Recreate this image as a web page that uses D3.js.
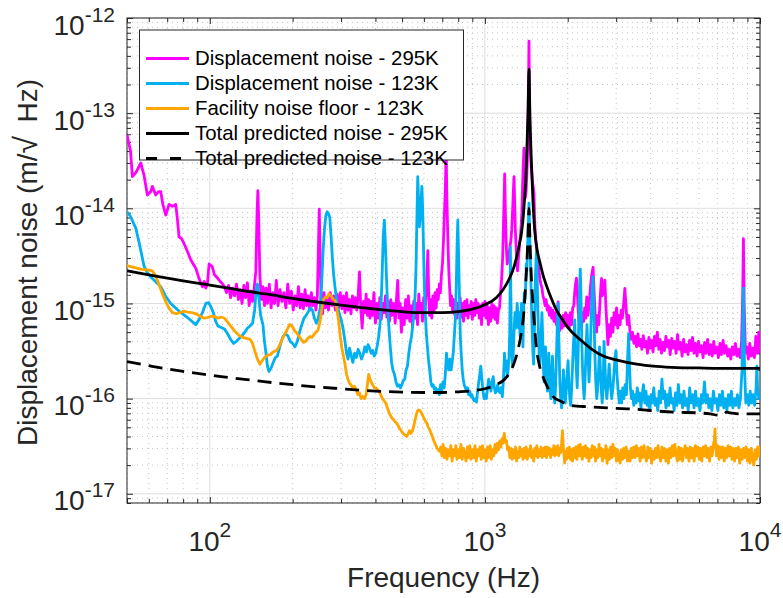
<!DOCTYPE html>
<html>
<head>
<meta charset="utf-8">
<script src="https://cdn.jsdelivr.net/npm/d3@7"></script>
<style>
    body { margin: 0; background: #fff; }
    svg { display: block; font-family: "Liberation Sans", Arial, Helvetica, sans-serif; }
</style>
</head>
<body>
<div class="chart"></div>
<script>
// Series: [frequency in Hz, noise in units of 1e-15 m/sqrt(Hz)]
const disp295K = [
    [50, 59], [51.5, 40], [52.3, 21.5], [54, 24], [56.1, 30], [57.7, 22], [59.3, 13.8], [61, 15], [61.8, 17],
    [63.6, 13.8], [65, 15], [66.3, 15], [67.5, 11], [69.2, 8.5], [71.1, 11], [73, 10.5], [75.2, 11], [76.3, 7.5],
    [77.3, 5.0], [78.9, 4.8], [80.5, 4.3], [83, 3.5], [85.3, 2.86], [87, 2.6], [88.9, 2.35], [91, 1.9], [93, 1.6],
    [94, 1.5], [95.5, 1.7], [96.7, 1.45], [98, 1.6], [99.4, 2.6], [101, 2.5], [102, 2.45], [104, 2.0], [107, 1.83],
    [109, 1.7], [111, 1.62], [113, 1.5], [115, 1.3], [117, 1.55], [119, 1.15], [121, 1.45], [123, 1.2], [125, 1.6],
    [127, 1.1], [129, 1.4], [131, 1.0], [133, 1.55], [135, 1.15], [137, 1.65], [139, 0.95], [141, 1.35], [143, 1.05],
    [145, 1.45], [147, 2.2], [148.5, 9], [149.5, 15.3], [150.5, 8], [152, 2.0], [154, 1.1], [156, 1.5], [158, 0.95],
    [160, 1.45], [162, 1.0], [164.5, 1.6], [167, 0.9], [169.5, 1.3], [172, 1.0], [174.5, 1.75], [177, 0.95], [180, 1.4],
    [183, 1.05], [186, 1.3], [189, 0.9], [192, 1.6], [195, 1.0], [198, 1.35], [201, 0.85], [204, 1.2], [207, 0.95],
    [210, 1.5], [213, 0.9], [216, 1.25], [219, 0.88], [222, 1.4], [225, 0.95], [228, 1.2], [231, 0.85], [234, 1.3],
    [237, 0.95], [240, 1.15], [243, 0.85], [246, 1.2], [248, 3.5], [250, 9.8], [252, 3.0], [254, 1.0], [257, 0.78],
    [260, 1.3], [263, 0.9], [266, 1.15], [270, 0.85], [274, 1.3], [278, 0.95], [282, 1.2], [286, 0.85], [290, 1.25],
    [294, 0.9], [298, 1.3], [302, 0.88], [306, 1.2], [310, 0.8], [314, 1.3], [318, 0.85], [322, 1.1], [326, 0.78],
    [330, 1.2], [334, 0.9], [338, 1.15], [342, 0.85], [346, 1.2], [350, 2.15], [354, 0.85], [358, 0.55], [362, 1.05],
    [366, 0.8], [370, 1.25], [374, 0.75], [378, 1.1], [382, 0.7], [386, 1.05], [390, 0.75], [395, 1.3], [400, 0.62],
    [405, 1.0], [410, 0.7], [415, 1.15], [420, 0.68], [425, 1.0], [430, 0.8], [435, 1.2], [440, 0.72], [445, 1.05],
    [450, 0.65], [455, 1.1], [460, 0.75], [466, 1.0], [472, 0.62], [477, 1.1], [482, 1.75], [487, 0.7], [492, 1.0],
    [497, 0.5], [503, 0.9], [509, 0.6], [515, 1.1], [521, 0.7], [527, 1.2], [533, 0.65], [539, 0.95], [545, 0.58],
    [551, 1.05], [557, 0.7], [563, 1.0], [569, 0.6], [575, 1.25], [581, 0.8], [587, 1.0], [593, 0.65], [599, 1.15],
    [605, 0.8], [611, 1.2], [616, 2.0], [620, 3.6], [624, 1.5], [629, 0.75], [635, 1.1], [641, 0.7], [647, 1.2],
    [653, 0.8], [659, 1.3], [665, 0.9], [671, 1.4], [677, 1.1], [683, 1.6], [689, 1.3], [695, 2.0], [701, 2.6],
    [707, 4.5], [713, 9], [718, 16], [723, 40], [727, 14], [732, 6], [738, 2.5], [744, 1.5], [750, 0.95], [757, 1.2],
    [764, 0.8], [771, 1.1], [778, 0.75], [785, 1.05], [792, 0.7], [799, 1.0], [806, 0.78], [813, 1.15], [820, 0.72],
    [828, 1.0], [836, 0.65], [844, 1.05], [852, 0.75], [860, 1.1], [868, 0.7], [876, 0.95], [884, 0.78], [892, 1.05],
    [900, 0.68], [909, 1.0], [918, 0.75], [927, 1.1], [936, 0.8], [945, 1.0], [954, 0.7], [963, 0.95], [972, 0.6],
    [981, 1.0], [990, 0.75], [1000, 1.05], [1010, 0.7], [1020, 0.95], [1030, 0.6], [1040, 0.9], [1050, 0.65],
    [1060, 1.0], [1070, 0.72], [1080, 0.95], [1090, 0.68], [1100, 0.9], [1110, 0.62], [1120, 0.85], [1130, 0.9],
    [1140, 1.3], [1150, 1.8], [1160, 3.0], [1170, 8], [1180, 23], [1188, 8], [1196, 4], [1205, 2.6], [1214, 2.8],
    [1223, 3.2], [1232, 3.9], [1242, 4.5], [1252, 6], [1262, 10], [1270, 16], [1276, 21.5], [1283, 12], [1290, 6],
    [1298, 4], [1306, 2.8], [1314, 2.2], [1322, 2.8], [1330, 3.5], [1338, 4.5], [1346, 5], [1354, 6.5], [1362, 9],
    [1370, 16], [1378, 28], [1387, 43], [1395, 20], [1403, 13], [1412, 15], [1420, 22], [1428, 35], [1436, 80],
    [1441, 200], [1446, 570], [1451, 180], [1457, 70], [1464, 40], [1470, 30], [1478, 25], [1487, 20], [1497, 17],
    [1508, 14.5], [1518, 7], [1528, 5], [1538, 4], [1548, 3.2], [1560, 2.6], [1572, 2.2], [1585, 1.8], [1598, 1.6],
    [1612, 1.45], [1626, 1.2], [1640, 1.1], [1655, 0.95], [1670, 1.1], [1685, 0.85], [1700, 0.95], [1716, 0.75],
    [1732, 0.9], [1748, 0.7], [1765, 0.85], [1782, 0.65], [1800, 0.8], [1818, 0.6], [1832, 0.75], [1845, 1.04],
    [1858, 0.7], [1872, 0.52], [1890, 0.7], [1908, 0.55], [1926, 0.75], [1945, 0.58], [1965, 0.8], [1985, 0.6],
    [2005, 0.75], [2025, 0.55], [2045, 0.8], [2065, 0.6], [2085, 0.9], [2105, 0.95], [2120, 1.3], [2135, 1.6],
    [2152, 1.85], [2168, 1.3], [2185, 0.8], [2205, 0.6], [2225, 0.75], [2245, 0.55], [2265, 0.8], [2285, 0.65],
    [2305, 0.9], [2325, 0.7], [2345, 1.17], [2370, 0.75], [2395, 1.0], [2420, 1.5], [2445, 2.0], [2473, 2.4],
    [2495, 1.3], [2520, 0.7], [2545, 0.5], [2570, 0.75], [2595, 0.6], [2618, 1.0], [2640, 1.5], [2655, 1.83],
    [2672, 1.2], [2690, 1.3], [2710, 1.5], [2730, 1.76], [2750, 1.0], [2775, 0.6], [2800, 0.37], [2830, 0.6],
    [2860, 0.45], [2890, 0.7], [2920, 0.5], [2950, 0.8], [2980, 0.6], [3010, 0.9], [3040, 0.55], [3070, 0.75],
    [3100, 0.6], [3130, 0.85], [3160, 0.7], [3195, 1.0], [3227, 1.44], [3260, 0.9], [3295, 0.6], [3330, 0.75],
    [3367, 0.52], [3400, 0.42], [3440, 0.5], [3480, 0.38], [3520, 0.45], [3560, 0.35], [3600, 0.48], [3640, 0.36],
    [3680, 0.42], [3720, 0.33], [3765, 0.46], [3810, 0.35], [3855, 0.4], [3900, 0.3], [3945, 0.44], [3990, 0.34],
    [4035, 0.41], [4085, 0.31], [4135, 0.45], [4185, 0.36], [4235, 0.5], [4285, 0.33], [4335, 0.42], [4385, 0.3],
    [4440, 0.39], [4495, 0.32], [4550, 0.45], [4605, 0.35], [4660, 0.41], [4715, 0.29], [4775, 0.43], [4835, 0.34],
    [4895, 0.4], [4955, 0.3], [5015, 0.47], [5080, 0.33], [5145, 0.39], [5210, 0.28], [5275, 0.42], [5340, 0.31],
    [5405, 0.37], [5475, 0.29], [5545, 0.41], [5615, 0.32], [5685, 0.44], [5755, 0.3], [5830, 0.38], [5905, 0.28],
    [5980, 0.4], [6055, 0.31], [6130, 0.36], [6210, 0.27], [6290, 0.39], [6370, 0.3], [6450, 0.42], [6535, 0.29],
    [6620, 0.37], [6705, 0.28], [6790, 0.4], [6880, 0.3], [6970, 0.35], [7060, 0.27], [7150, 0.38], [7245, 0.29],
    [7340, 0.41], [7435, 0.3], [7530, 0.36], [7630, 0.28], [7730, 0.33], [7830, 0.26], [7930, 0.35], [8035, 0.29],
    [8140, 0.38], [8245, 0.28], [8350, 0.33], [8460, 0.27], [8570, 0.4], [8650, 1.2], [8705, 4.8], [8760, 1.0],
    [8850, 0.3], [8960, 0.35], [9070, 0.26], [9180, 0.38], [9300, 0.28], [9420, 0.34], [9540, 0.27], [9660, 0.45],
    [9780, 0.3], [9900, 0.5], [10000, 0.3]
];

const disp123K = [
    [50, 9.2], [51.5, 8.2], [53.8, 6.2], [55.5, 4.2], [57.7, 2.45], [59.3, 2.1], [61, 1.9], [63.5, 1.7], [66.3, 1.5],
    [69, 1.2], [72.1, 1.0], [75, 0.9], [78.4, 0.8], [81, 0.75], [83.5, 0.7], [86, 0.65], [88.9, 0.6], [91.5, 0.68],
    [94, 0.8], [96.7, 1.0], [99, 1.02], [101, 0.92], [103, 0.8], [105, 0.65], [107, 0.58], [110, 0.56], [113, 0.54],
    [116, 0.48], [119, 0.42], [122, 0.38], [125, 0.4], [128, 0.43], [131, 0.46], [134, 0.5], [137, 0.55], [140, 0.58],
    [143, 0.62], [145.5, 0.85], [147.5, 1.4], [149, 1.6], [151, 1.1], [153, 0.75], [156, 0.6], [158, 0.4], [160, 0.3],
    [162, 0.22], [164, 0.193], [167, 0.21], [170, 0.24], [173, 0.27], [176, 0.28], [180, 0.36], [184, 0.44], [188, 0.48],
    [192, 0.46], [196, 0.4], [200, 0.38], [204, 0.35], [208, 0.4], [212, 0.5], [216, 0.6], [220, 0.7], [224, 0.75],
    [228, 0.82], [232, 0.9], [236, 0.85], [240, 0.7], [244, 0.62], [248, 0.7], [252, 0.9], [255, 1.6], [258, 3.5],
    [261, 6.0], [264, 8.3], [267, 9.2], [270, 8.8], [273, 8.0], [276, 5.0], [279, 3.0], [282, 2.0], [285, 1.5],
    [290, 1.0], [295, 0.8], [300, 0.68], [305, 0.55], [310, 0.4], [314, 0.3], [318, 0.26], [322, 0.34], [327, 0.28],
    [331, 0.24], [336, 0.3], [341, 0.27], [346, 0.33], [351, 0.3], [356, 0.26], [361, 0.29], [366, 0.35], [371, 0.31],
    [376, 0.37], [381, 0.34], [386, 0.3], [391, 0.32], [396, 0.28], [401, 0.3], [406, 0.36], [411, 0.45], [415, 0.58],
    [419, 0.9], [423, 2.0], [427, 5.0], [431, 7.5], [435, 4.0], [439, 1.8], [443, 0.92], [448, 0.55], [453, 0.35],
    [458, 0.24], [463, 0.2], [469, 0.18], [475, 0.15], [481, 0.135], [487, 0.14], [493, 0.13], [499, 0.14],
    [505, 0.155], [511, 0.16], [517, 0.2], [523, 0.22], [529, 0.3], [535, 0.38], [541, 0.45], [547, 0.6], [553, 0.8],
    [558, 1.3], [562, 2.5], [566, 8], [570, 21.5], [574, 12], [578, 6.4], [582, 8], [586, 12], [590, 17], [594, 10],
    [598, 4], [602, 1.6], [607, 0.8], [612, 0.5], [618, 0.35], [624, 0.25], [630, 0.2], [636, 0.15], [642, 0.135],
    [648, 0.14], [655, 0.125], [662, 0.13], [669, 0.115], [676, 0.125], [683, 0.11], [690, 0.14], [697, 0.12],
    [704, 0.15], [711, 0.13], [718, 0.18], [725, 0.3], [732, 0.23], [739, 0.2], [746, 0.26], [753, 0.2], [760, 0.24],
    [767, 0.3], [774, 0.45], [781, 0.7], [787, 1.6], [792, 4.0], [797, 7.5], [802, 3.5], [808, 1.2], [814, 0.45],
    [820, 0.3], [827, 0.2], [834, 0.16], [841, 0.14], [849, 0.13], [857, 0.12], [865, 0.13], [873, 0.11], [881, 0.12],
    [889, 0.105], [897, 0.11], [905, 0.1], [914, 0.095], [923, 0.1], [932, 0.092], [941, 0.12], [950, 0.15],
    [958, 0.18], [966, 0.22], [975, 0.16], [984, 0.12], [993, 0.1], [1002, 0.11], [1012, 0.1], [1022, 0.13],
    [1032, 0.16], [1042, 0.14], [1052, 0.12], [1062, 0.15], [1072, 0.17], [1082, 0.13], [1092, 0.115], [1102, 0.12],
    [1113, 0.14], [1124, 0.12], [1135, 0.115], [1146, 0.13], [1157, 0.105], [1168, 0.16], [1178, 0.3], [1186, 0.2],
    [1195, 0.25], [1204, 0.17], [1214, 0.2], [1224, 0.28], [1231, 0.5], [1235, 1.5], [1238, 3.9], [1242, 1.4],
    [1248, 0.4], [1255, 0.25], [1262, 0.22], [1270, 0.35], [1278, 0.55], [1286, 0.8], [1294, 0.55], [1302, 0.7],
    [1310, 1.0], [1318, 0.75], [1326, 0.55], [1334, 0.8], [1342, 0.45], [1350, 0.7], [1358, 1.0], [1366, 0.55],
    [1375, 0.35], [1383, 0.9], [1391, 1.3], [1399, 1.1], [1407, 1.6], [1414, 2.6], [1421, 2.2], [1428, 3.8],
    [1435, 5.5], [1441, 8], [1446, 11.3], [1452, 7], [1458, 4], [1465, 2.6], [1472, 1.4], [1479, 0.8], [1487, 0.45],
    [1495, 0.3], [1503, 0.23], [1511, 0.4], [1519, 0.9], [1527, 2.0], [1535, 3.0], [1541, 3.6], [1548, 2.0],
    [1556, 1.0], [1565, 0.5], [1574, 0.3], [1583, 0.22], [1592, 0.3], [1602, 0.5], [1612, 0.8], [1620, 0.5],
    [1630, 0.25], [1640, 0.15], [1650, 0.2], [1660, 0.35], [1668, 0.25], [1678, 0.15], [1688, 0.12], [1698, 0.18],
    [1708, 0.3], [1716, 0.2], [1726, 0.13], [1737, 0.1], [1748, 0.15], [1760, 0.28], [1770, 0.18], [1782, 0.11],
    [1794, 0.09], [1806, 0.13], [1818, 0.25], [1830, 0.5], [1845, 1.0], [1858, 0.4], [1872, 0.15], [1886, 0.1],
    [1900, 0.08], [1915, 0.12], [1930, 0.2], [1945, 0.13], [1960, 0.09], [1975, 0.12], [1990, 0.18], [2006, 0.25],
    [2020, 0.15], [2035, 0.1], [2050, 0.085], [2065, 0.12], [2080, 0.2], [2095, 0.35], [2110, 0.5], [2121, 0.67],
    [2135, 0.35], [2150, 0.2], [2165, 0.13], [2180, 0.25], [2195, 0.7], [2210, 1.5], [2222, 2.3], [2235, 1.2],
    [2250, 0.4], [2265, 0.2], [2280, 0.13], [2295, 0.1], [2310, 0.15], [2330, 0.3], [2350, 0.6], [2370, 0.3],
    [2390, 0.15], [2410, 0.25], [2430, 0.6], [2450, 1.2], [2470, 1.9], [2490, 0.8], [2510, 0.3], [2530, 0.15],
    [2550, 0.1], [2570, 0.13], [2590, 0.2], [2610, 0.35], [2630, 0.2], [2650, 0.12], [2670, 0.09], [2692, 0.15],
    [2710, 0.4], [2730, 0.25], [2750, 0.13], [2775, 0.1], [2800, 0.14], [2830, 0.23], [2860, 0.14], [2890, 0.1],
    [2920, 0.13], [2950, 0.2], [2975, 0.28], [2995, 0.32], [3020, 0.18], [3050, 0.12], [3080, 0.09], [3110, 0.12],
    [3140, 0.09], [3170, 0.13], [3200, 0.1], [3235, 0.14], [3270, 0.11], [3300, 0.25], [3330, 0.48], [3355, 0.22],
    [3380, 0.13], [3410, 0.1], [3440, 0.12], [3475, 0.085], [3510, 0.11], [3545, 0.09], [3580, 0.13], [3615, 0.095],
    [3650, 0.115], [3690, 0.08], [3730, 0.11], [3770, 0.14], [3810, 0.09], [3850, 0.12], [3890, 0.085], [3930, 0.105],
    [3975, 0.075], [4020, 0.11], [4065, 0.09], [4110, 0.13], [4155, 0.085], [4200, 0.1], [4250, 0.075], [4300, 0.12],
    [4350, 0.09], [4400, 0.16], [4450, 0.1], [4500, 0.12], [4550, 0.08], [4600, 0.11], [4655, 0.085], [4710, 0.13],
    [4765, 0.09], [4820, 0.1], [4875, 0.075], [4930, 0.115], [4990, 0.085], [5050, 0.14], [5110, 0.09], [5170, 0.11],
    [5230, 0.08], [5290, 0.12], [5355, 0.085], [5420, 0.1], [5485, 0.075], [5550, 0.13], [5620, 0.09], [5690, 0.11],
    [5760, 0.08], [5830, 0.12], [5900, 0.085], [5975, 0.1], [6050, 0.075], [6125, 0.11], [6200, 0.09], [6280, 0.15],
    [6360, 0.09], [6440, 0.11], [6520, 0.08], [6600, 0.1], [6685, 0.075], [6770, 0.12], [6855, 0.09], [6940, 0.1],
    [7030, 0.075], [7120, 0.11], [7210, 0.085], [7300, 0.12], [7390, 0.08], [7485, 0.1], [7580, 0.075], [7675, 0.11],
    [7770, 0.085], [7870, 0.12], [7970, 0.08], [8070, 0.1], [8175, 0.085], [8280, 0.11], [8385, 0.08], [8490, 0.1],
    [8600, 0.2], [8705, 1.45], [8790, 0.2], [8880, 0.09], [8990, 0.11], [9100, 0.085], [9210, 0.12], [9320, 0.09],
    [9440, 0.11], [9560, 0.085], [9680, 0.13], [9740, 0.22], [9800, 0.13], [9900, 0.1], [10000, 0.11]
];

const facility123K = [
    [50, 2.5], [53, 2.4], [56, 2.3], [59, 2.25], [61.8, 2.2], [63.5, 1.95], [65.3, 1.6], [67, 1.3], [69.2, 1.04],
    [71, 0.9], [73.1, 0.8], [75.5, 0.78], [78, 0.8], [80.5, 0.83], [83, 0.81], [86, 0.8], [89, 0.78], [92, 0.74],
    [95.3, 0.7], [98, 0.71], [101, 0.73], [104, 0.73], [107, 0.7], [110, 0.72], [113, 0.7], [116, 0.64], [119, 0.58],
    [122, 0.53], [125, 0.49], [128, 0.46], [132, 0.44], [136, 0.43], [140, 0.42], [143, 0.38], [146, 0.31],
    [149, 0.26], [152, 0.23], [155, 0.25], [158, 0.27], [162, 0.285], [166, 0.29], [170, 0.31], [175, 0.32],
    [179, 0.36], [183, 0.42], [187, 0.47], [191, 0.53], [195, 0.6], [199, 0.58], [203, 0.52], [207, 0.49], [211, 0.45],
    [215, 0.42], [219, 0.39], [223, 0.4], [227, 0.43], [231, 0.45], [235, 0.44], [239, 0.47], [243, 0.5], [247, 0.52],
    [251, 0.62], [255, 0.85], [259, 1.1], [263, 1.17], [267, 1.15], [271, 1.27], [276, 1.2], [281, 1.1], [286, 1.07],
    [290, 0.85], [294, 0.65], [298, 0.45], [302, 0.34], [306, 0.28], [310, 0.23], [314, 0.18], [318, 0.16],
    [322, 0.145], [326, 0.14], [330, 0.13], [335, 0.135], [340, 0.125], [345, 0.11], [350, 0.115], [355, 0.1],
    [360, 0.105], [365, 0.1], [370, 0.11], [374, 0.14], [378, 0.18], [382, 0.16], [386, 0.15], [391, 0.14], [396, 0.13],
    [401, 0.13], [406, 0.125], [412, 0.12], [418, 0.11], [424, 0.1], [430, 0.095], [436, 0.09], [442, 0.08],
    [448, 0.072], [454, 0.066], [460, 0.062], [466, 0.06], [472, 0.057], [478, 0.055], [484, 0.052], [490, 0.048],
    [496, 0.046], [502, 0.044], [508, 0.042], [514, 0.041], [520, 0.04], [526, 0.043], [532, 0.046], [538, 0.043],
    [544, 0.045], [550, 0.05], [556, 0.058], [562, 0.066], [568, 0.074], [574, 0.076], [580, 0.075], [586, 0.072],
    [592, 0.068], [598, 0.064], [604, 0.06], [610, 0.057], [616, 0.055], [622, 0.05], [628, 0.048], [634, 0.045],
    [640, 0.042], [646, 0.039], [652, 0.036], [658, 0.034], [664, 0.032], [670, 0.03], [677, 0.029], [684, 0.028],
    [691, 0.031], [698, 0.025], [705, 0.033], [712, 0.024], [720, 0.03], [728, 0.023], [736, 0.029], [744, 0.025],
    [752, 0.032], [760, 0.022], [768, 0.029], [776, 0.025], [784, 0.032], [792, 0.023], [800, 0.029], [809, 0.024],
    [818, 0.033], [827, 0.023], [836, 0.03], [845, 0.026], [854, 0.022], [863, 0.031], [872, 0.024], [881, 0.032],
    [890, 0.023], [900, 0.029], [910, 0.024], [920, 0.032], [930, 0.022], [940, 0.029], [950, 0.025], [960, 0.031],
    [970, 0.023], [980, 0.032], [990, 0.024], [1000, 0.029], [1011, 0.022], [1022, 0.031], [1033, 0.024],
    [1044, 0.032], [1055, 0.023], [1066, 0.029], [1077, 0.025], [1088, 0.033], [1099, 0.027], [1110, 0.034],
    [1121, 0.029], [1132, 0.036], [1143, 0.031], [1154, 0.038], [1165, 0.034], [1176, 0.043], [1187, 0.035],
    [1198, 0.036], [1209, 0.029], [1220, 0.031], [1232, 0.024], [1244, 0.03], [1256, 0.023], [1268, 0.029],
    [1280, 0.024], [1292, 0.031], [1304, 0.022], [1316, 0.028], [1328, 0.024], [1340, 0.031], [1352, 0.025],
    [1364, 0.029], [1376, 0.023], [1388, 0.03], [1400, 0.024], [1413, 0.031], [1426, 0.023], [1439, 0.029],
    [1452, 0.025], [1465, 0.032], [1478, 0.024], [1491, 0.028], [1504, 0.022], [1517, 0.03], [1530, 0.025],
    [1544, 0.032], [1558, 0.024], [1572, 0.029], [1586, 0.025], [1600, 0.031], [1615, 0.024], [1630, 0.03],
    [1645, 0.025], [1660, 0.031], [1675, 0.024], [1690, 0.031], [1705, 0.026], [1720, 0.03], [1735, 0.024],
    [1750, 0.029], [1765, 0.026], [1780, 0.032], [1795, 0.025], [1810, 0.031], [1825, 0.026], [1840, 0.032],
    [1855, 0.025], [1870, 0.03], [1885, 0.027], [1900, 0.034], [1915, 0.046], [1925, 0.034], [1935, 0.027],
    [1950, 0.021], [1965, 0.028], [1980, 0.023], [1995, 0.03], [2010, 0.024], [2028, 0.031], [2046, 0.023],
    [2064, 0.029], [2082, 0.022], [2100, 0.03], [2120, 0.024], [2140, 0.031], [2160, 0.023], [2180, 0.032],
    [2200, 0.025], [2220, 0.033], [2240, 0.026], [2260, 0.023], [2280, 0.031], [2300, 0.025], [2322, 0.032],
    [2344, 0.024], [2366, 0.03], [2388, 0.022], [2410, 0.029], [2433, 0.024], [2456, 0.032], [2479, 0.025],
    [2502, 0.031], [2525, 0.022], [2550, 0.029], [2575, 0.024], [2600, 0.033], [2625, 0.025], [2650, 0.03],
    [2675, 0.022], [2700, 0.029], [2727, 0.024], [2754, 0.032], [2781, 0.021], [2808, 0.029], [2835, 0.023],
    [2863, 0.031], [2891, 0.024], [2920, 0.033], [2949, 0.025], [2978, 0.03], [3008, 0.022], [3038, 0.029],
    [3068, 0.024], [3100, 0.021], [3132, 0.029], [3164, 0.023], [3196, 0.03], [3230, 0.024], [3264, 0.031],
    [3298, 0.022], [3333, 0.028], [3368, 0.022], [3404, 0.03], [3440, 0.024], [3477, 0.031], [3514, 0.024],
    [3551, 0.032], [3589, 0.025], [3627, 0.03], [3666, 0.022], [3705, 0.031], [3745, 0.024], [3785, 0.032],
    [3826, 0.025], [3867, 0.022], [3909, 0.031], [3951, 0.024], [3994, 0.03], [4037, 0.021], [4081, 0.028],
    [4125, 0.023], [4170, 0.03], [4215, 0.024], [4261, 0.032], [4307, 0.025], [4354, 0.022], [4401, 0.031],
    [4449, 0.024], [4497, 0.03], [4546, 0.022], [4595, 0.029], [4645, 0.021], [4695, 0.03], [4746, 0.024],
    [4797, 0.032], [4849, 0.025], [4902, 0.033], [4955, 0.026], [5009, 0.022], [5063, 0.031], [5118, 0.023],
    [5173, 0.03], [5229, 0.022], [5286, 0.028], [5343, 0.032], [5401, 0.024], [5459, 0.03], [5518, 0.022],
    [5578, 0.031], [5638, 0.024], [5699, 0.03], [5761, 0.022], [5823, 0.032], [5886, 0.025], [5950, 0.031],
    [6014, 0.023], [6080, 0.03], [6145, 0.022], [6212, 0.031], [6279, 0.025], [6347, 0.032], [6416, 0.024],
    [6485, 0.03], [6555, 0.022], [6626, 0.031], [6698, 0.025], [6770, 0.033], [6820, 0.036], [6860, 0.048],
    [6900, 0.032], [6950, 0.025], [7025, 0.032], [7100, 0.023], [7177, 0.031], [7255, 0.024], [7334, 0.031],
    [7413, 0.022], [7494, 0.03], [7575, 0.024], [7657, 0.032], [7740, 0.025], [7824, 0.031], [7909, 0.023],
    [7994, 0.03], [8081, 0.022], [8168, 0.03], [8257, 0.024], [8346, 0.031], [8436, 0.021], [8528, 0.029],
    [8620, 0.023], [8713, 0.03], [8807, 0.024], [8903, 0.031], [8999, 0.022], [9096, 0.029], [9195, 0.021],
    [9294, 0.03], [9395, 0.024], [9496, 0.02], [9599, 0.029], [9703, 0.023], [9808, 0.031], [9904, 0.025],
    [10000, 0.032]
];

const model295K = [
    [50, 2.2], [60, 2.0], [70, 1.85], [80, 1.73], [90, 1.64], [100, 1.56], [120, 1.43], [140, 1.33], [160, 1.26],
    [200, 1.13], [250, 1.03], [300, 0.96], [350, 0.91], [400, 0.87], [500, 0.82], [600, 0.8], [700, 0.8], [800, 0.82],
    [900, 0.87], [1000, 0.97], [1100, 1.15], [1165, 1.4], [1230, 1.85], [1280, 2.5], [1337, 4.3], [1357, 5.4],
    [1380, 8.5], [1395, 13], [1410, 22], [1422, 45], [1434, 100], [1446, 290], [1458, 90], [1476, 30], [1495, 12],
    [1517, 5.9], [1550, 3.6], [1590, 2.6], [1626, 2.0], [1673, 1.55], [1750, 1.1], [1820, 0.85], [1900, 0.7],
    [2000, 0.56], [2213, 0.42], [2450, 0.33], [2692, 0.28], [3000, 0.255], [3560, 0.23], [4200, 0.218],
    [5000, 0.212], [6000, 0.21], [8000, 0.208], [10000, 0.208]
];

const model123K = [
    [50, 0.245], [60, 0.222], [70, 0.205], [80, 0.193], [90, 0.184], [100, 0.177], [120, 0.165], [140, 0.157],
    [160, 0.15], [200, 0.14], [250, 0.132], [300, 0.127], [350, 0.123], [400, 0.12], [500, 0.117], [600, 0.116],
    [700, 0.116], [800, 0.118], [900, 0.121], [1000, 0.127], [1100, 0.14], [1180, 0.16], [1265, 0.22], [1310, 0.3],
    [1357, 0.5], [1385, 0.8], [1405, 1.5], [1422, 2.8], [1434, 5], [1446, 10], [1458, 4.5], [1476, 1.8], [1495, 1.0],
    [1517, 0.55], [1538, 0.35], [1580, 0.22], [1626, 0.17], [1673, 0.14], [1770, 0.105], [1900, 0.093],
    [2030, 0.085], [2400, 0.082], [3000, 0.079], [3370, 0.078], [4000, 0.075], [4840, 0.072], [5885, 0.071],
    [6600, 0.069], [7050, 0.067], [7350, 0.068], [7570, 0.072], [7800, 0.071], [8465, 0.069], [10000, 0.069]
];

const seriesNames = [
    "Displacement noise - 295K",
    "Displacement noise - 123K",
    "Facility noise floor - 123K",
    "Total predicted noise - 295K",
    "Total predicted noise - 123K"
];

// Decade tick labels, written as 10^exp
const xTickExps = ["2", "3", "4"];
const yTickExps = ["-17", "-16", "-15", "-14", "-13", "-12"];

const UNIT = 1e-15;

// Margins and plot size
const margin = {top: 18, right: 23, bottom: 95, left: 127};
const width = 783 - margin.left - margin.right;   // 633
const height = 598 - margin.top - margin.bottom;  // 485

const svg = d3.select(".chart")
    .append("svg")
    .attr("width", width + margin.left + margin.right)
    .attr("height", height + margin.top + margin.bottom);

const g = svg.append("g")
    .attr("transform", `translate(${margin.left}, ${margin.top})`);

// Log scales
const x = d3.scaleLog()
    .domain([50, 1e4])
    .range([0, width]);

const y = d3.scaleLog()
    .domain([8e-18, 1e-12])
    .range([height, 0]);

const xAll = x.ticks();
const yAll = y.ticks();
const isDecade = v => Math.abs(Math.log10(v) - Math.round(Math.log10(v))) < 1e-9;
const xMajor = xAll.filter(isDecade);
const yMajor = yAll.filter(isDecade);
const xMinor = xAll.filter(v => !isDecade(v));
const yMinor = yAll.filter(v => !isDecade(v));

// Grid: minor dotted, major solid
const grid = g.append("g").attr("class", "grid");
grid.selectAll(".xminor").data(xMinor).enter().append("line")
    .attr("x1", d => x(d)).attr("x2", d => x(d))
    .attr("y1", 0).attr("y2", height)
    .attr("stroke", "#c4c4c4").attr("stroke-dasharray", "1,4");
grid.selectAll(".yminor").data(yMinor).enter().append("line")
    .attr("y1", d => y(d)).attr("y2", d => y(d))
    .attr("x1", 0).attr("x2", width)
    .attr("stroke", "#c4c4c4").attr("stroke-dasharray", "1,4");
grid.selectAll(".xmajor").data(xMajor).enter().append("line")
    .attr("x1", d => x(d)).attr("x2", d => x(d))
    .attr("y1", 0).attr("y2", height)
    .attr("stroke", "#dedede");
grid.selectAll(".ymajor").data(yMajor).enter().append("line")
    .attr("y1", d => y(d)).attr("y2", d => y(d))
    .attr("x1", 0).attr("x2", width)
    .attr("stroke", "#dedede");

// Axes: ticks pointing inward on all four sides
const noDomain = sel => sel.select(".domain").remove();
const tickStyle = sel => sel.selectAll("line").attr("stroke", "#262626");

const addAxis = (axis, ticks, size, transform) => {
    g.append("g")
        .attr("transform", transform)
        .call(axis.tickValues(ticks).tickSize(-size).tickFormat(""))
        .call(noDomain)
        .call(tickStyle);
};

addAxis(d3.axisBottom(x), xMinor, 4, `translate(0, ${height})`);
addAxis(d3.axisBottom(x), xMajor, 6, `translate(0, ${height})`);
addAxis(d3.axisTop(x), xMinor, 4, "translate(0, 0)");
addAxis(d3.axisTop(x), xMajor, 6, "translate(0, 0)");
addAxis(d3.axisLeft(y), yMinor, 4, "translate(0, 0)");
addAxis(d3.axisLeft(y), yMajor, 6, "translate(0, 0)");
addAxis(d3.axisRight(y), yMinor, 4, `translate(${width}, 0)`);
addAxis(d3.axisRight(y), yMajor, 6, `translate(${width}, 0)`);

g.append("rect")
    .attr("width", width)
    .attr("height", height)
    .attr("fill", "none")
    .attr("stroke", "#262626")
    .attr("stroke-width", 1);

// Tick labels with superscript exponents
g.selectAll(".x-label")
    .data(xMajor)
    .enter()
    .append("text")
        .attr("x", d => x(d))
        .attr("y", height + 48)
        .attr("text-anchor", "middle")
        .attr("font-size", 28)
        .attr("fill", "#262626")
        .each(function(d, i) {
            const t = d3.select(this);
            t.append("tspan").text("10");
            t.append("tspan").attr("dy", -14).attr("font-size", 21).text(xTickExps[i]);
        });

g.selectAll(".y-label")
    .data(yMajor)
    .enter()
    .append("text")
        .attr("x", -12)
        .attr("y", d => y(d) + 16.5)
        .attr("text-anchor", "end")
        .attr("font-size", 28)
        .attr("fill", "#262626")
        .each(function(d, i) {
            const t = d3.select(this);
            t.append("tspan").text("10");
            t.append("tspan").attr("dy", -13).attr("font-size", 21).text(yTickExps[i]);
        });

// Axis titles
g.append("text")
    .attr("x", width / 2)
    .attr("y", height + 84)
    .attr("text-anchor", "middle")
    .attr("font-size", 28)
    .attr("fill", "#262626")
    .text("Frequency (Hz)");

const yTitle = g.append("text")
    .attr("transform", `translate(${37 - margin.left}, ${height / 2 + 2}) rotate(-90)`)
    .attr("text-anchor", "middle")
    .attr("font-size", 28)
    .attr("fill", "#262626");
yTitle.append("tspan").text("Displacement noise (m/");
yTitle.append("tspan").attr("font-size", 32).text("\u221A");
yTitle.append("tspan").text("\u2009 Hz)");

// Data lines, clipped to the plot box
svg.append("defs").append("clipPath")
    .attr("id", "plot-clip")
    .append("rect")
        .attr("width", width)
        .attr("height", height);

const plot = g.append("g").attr("clip-path", "url(#plot-clip)");

const noisy = d3.line()
    .x(d => x(d[0]))
    .y(d => y(d[1] * UNIT));

const smooth = d3.line()
    .curve(d3.curveMonotoneX)
    .x(d => x(d[0]))
    .y(d => y(d[1] * UNIT));

const series = [
    {data: disp295K, gen: noisy, color: "#ff00ff", dash: null},
    {data: disp123K, gen: noisy, color: "#00b0f0", dash: null},
    {data: facility123K, gen: noisy, color: "#ffa500", dash: null},
    {data: model295K, gen: smooth, color: "#000000", dash: null},
    {data: model123K, gen: smooth, color: "#000000", dash: "14,8"}
];

plot.selectAll("path")
    .data(series)
    .enter()
    .append("path")
        .attr("d", d => d.gen(d.data))
        .attr("fill", "none")
        .attr("stroke", d => d.color)
        .attr("stroke-width", 2.8)
        .attr("stroke-linejoin", "round")
        .attr("stroke-dasharray", d => d.dash);

// Legend
const legend = g.append("g")
    .attr("transform", "translate(12.5, 12)");

legend.append("rect")
    .attr("width", 324)
    .attr("height", 130)
    .attr("fill", "#fff")
    .attr("stroke", "#262626")
    .attr("stroke-width", 1);

const rows = legend.selectAll(".row")
    .data(series)
    .enter()
    .append("g")
        .attr("transform", (d, i) => `translate(0, ${35.3 + i * 25})`);

rows.append("line")
    .attr("x1", 6.5)
    .attr("x2", 49.5)
    .attr("y1", -6.8)
    .attr("y2", -6.8)
    .attr("stroke", d => d.color)
    .attr("stroke-width", 2.8)
    .attr("stroke-dasharray", d => d.dash ? "11,13" : null);

rows.append("text")
    .attr("x", 55.5)
    .attr("font-size", 20.4)
    .attr("fill", "#000")
    .text((d, i) => seriesNames[i]);
</script>
</body>
</html>
